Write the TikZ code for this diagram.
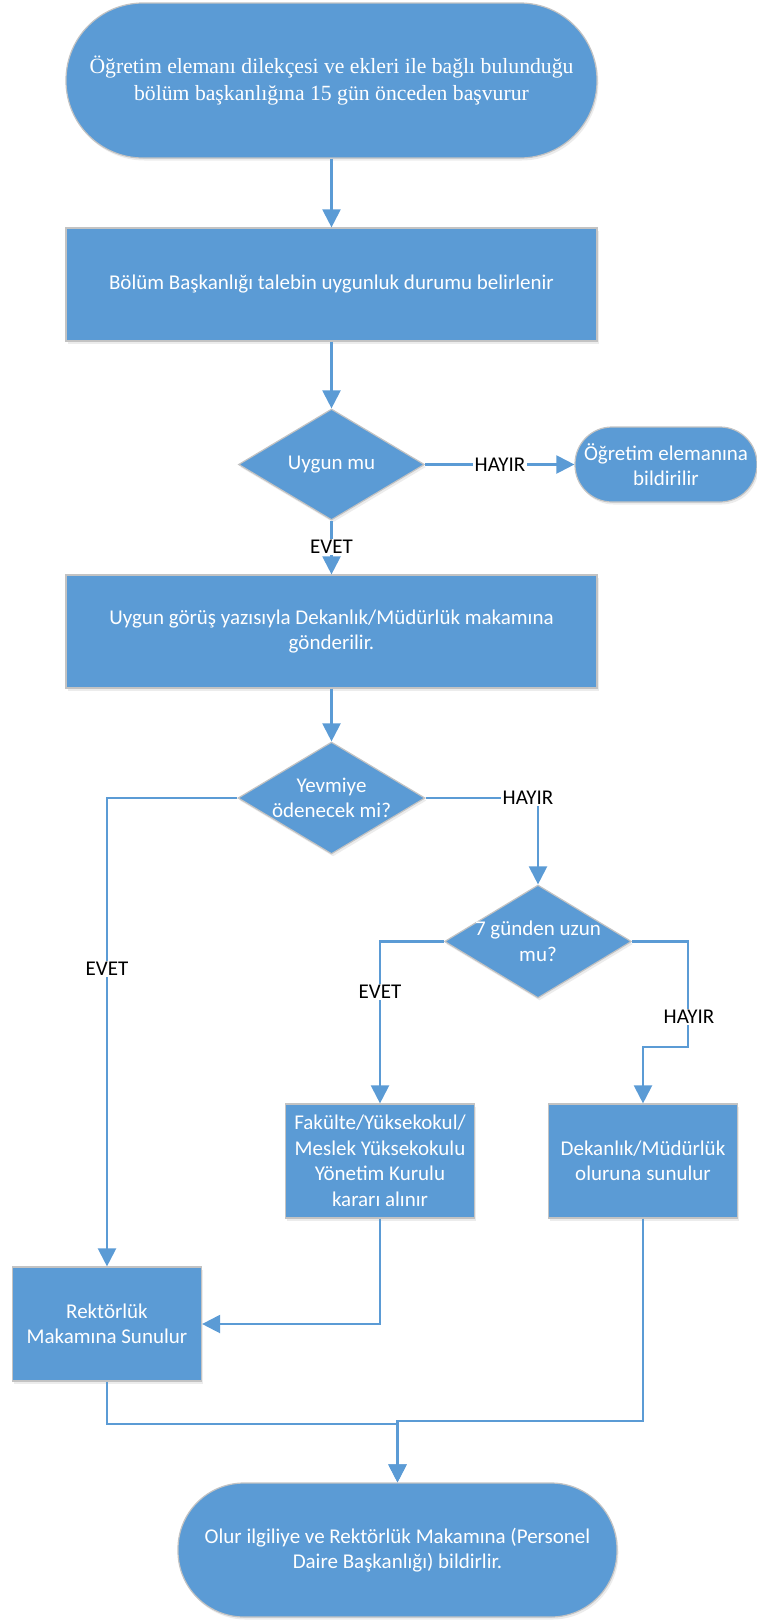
\documentclass[tikz,border=0pt]{standalone}
\usepackage{fontspec}
\setmainfont{Carlito}
\newfontfamily\serifT{Liberation Serif}
\usetikzlibrary{arrows.meta,shapes.geometric,shadows}
\definecolor{boxblue}{HTML}{5B9BD5}
\definecolor{edgegray}{HTML}{C3C3C3}
\tikzset{
 every node/.style={font=\fontsize{21}{25.5}\selectfont},
 base/.style={fill=boxblue, draw=edgegray, line width=1.2pt, text=white, align=center, inner sep=0pt,
   drop shadow={shadow xshift=1.5pt, shadow yshift=-2.5pt, opacity=0.15}},
 procbox/.style={base, rectangle},
 term/.style={base, rectangle},
 dec/.style={base, diamond},
 dectext/.style={text=white, align=center, inner sep=0pt},
 conn/.style={draw=boxblue, line width=2.2pt},
 arr/.style={conn, -{Triangle[length=18pt,width=18pt]}},
 lbl/.style={fill=white, text=black, inner sep=1.5pt},
}
\begin{document}
\begin{tikzpicture}[x=1pt,y=-1pt]
\useasboundingbox (0,0) rectangle (757,1620);
% nodes
\node[term, minimum width=531pt, minimum height=155pt, rounded corners=77pt,
      font=\serifT\fontsize{21.7}{27}\selectfont] (start) at (331.5,80.5)
  {Öğretim elemanı dilekçesi ve ekleri ile bağlı bulunduğu\\bölüm başkanlığına 15 gün önceden başvurur};
\node[procbox, minimum width=531pt, minimum height=113pt] (b2) at (331.5,284.5)
  {Bölüm Başkanlığı talebin uygunluk durumu belirlenir};
\node[dec, minimum width=186pt, minimum height=111pt, label={[dectext]center:Uygun mu}] (d1) at (331.5,464.5) {};
\node[term, minimum width=182pt, minimum height=75pt, rounded corners=37pt] (rt) at (666,464.5)
  {Öğretim elemanına\\bildirilir};
\node[procbox, minimum width=531pt, minimum height=113pt] (b3) at (331.5,631.5)
  {Uygun görüş yazısıyla Dekanlık/Müdürlük makamına\\gönderilir.};
\node[dec, minimum width=187pt, minimum height=112pt, label={[dectext]center:Yevmiye\\ödenecek mi?}] (d2) at (331.5,798) {};
\node[dec, minimum width=187pt, minimum height=113pt, label={[dectext]center:7 günden uzun\\mu?}] (d3) at (538,941.5) {};
\node[procbox, minimum width=189pt, minimum height=114pt] (fak) at (380,1161)
  {Fakülte/Yüksekokul/\\Meslek Yüksekokulu\\Yönetim Kurulu\\kararı alınır};
\node[procbox, minimum width=189pt, minimum height=114pt] (dek) at (643,1161)
  {Dekanlık/Müdürlük\\oluruna sunulur};
\node[procbox, minimum width=189pt, minimum height=114pt] (rek) at (107,1324)
  {Rektörlük\\Makamına Sunulur};
\node[term, minimum width=439pt, minimum height=134pt, rounded corners=66pt] (fin) at (397.5,1550)
  {Olur ilgiliye ve Rektörlük Makamına (Personel\\Daire Başkanlığı) bildirlir.};
% connectors
\coordinate (j1) at (688,1047);
\coordinate (j2) at (380,1324);
\coordinate (j3) at (397.5,1424);
\coordinate (j4) at (397.5,1421);
\draw[arr] (start.south) -- (b2.north);
\draw[arr] (b2.south) -- (d1.north);
\draw[arr] (d1.east) -- (rt.west);
\draw[arr] (d1.south) -- (b3.north);
\draw[arr] (b3.south) -- (d2.north);
\draw[arr] (d2.west) -| (rek.north);
\draw[arr] (d2.east) -| (d3.north);
\draw[arr] (d3.west) -| (fak.north);
\draw[arr] (d3.east) -| (j1) -| (dek.north);
\draw[arr] (fak.south) -- (j2) -- (rek.east);
\draw[arr] (rek.south) |- (j3) -- (fin.north);
\draw[arr] (dek.south) |- (j4) -- (fin.north);
% labels
\node[lbl] (l1) at (500,464.5) {HAYIR};
\node[lbl] (l2) at (331.5,547) {EVET};
\node[lbl] (l3) at (528,798) {HAYIR};
\node[lbl] (l4) at (107,969) {EVET};
\node[lbl] (l5) at (380,992) {EVET};
\node[lbl] (l6) at (689,1017) {HAYIR};
\end{tikzpicture}
\end{document}
